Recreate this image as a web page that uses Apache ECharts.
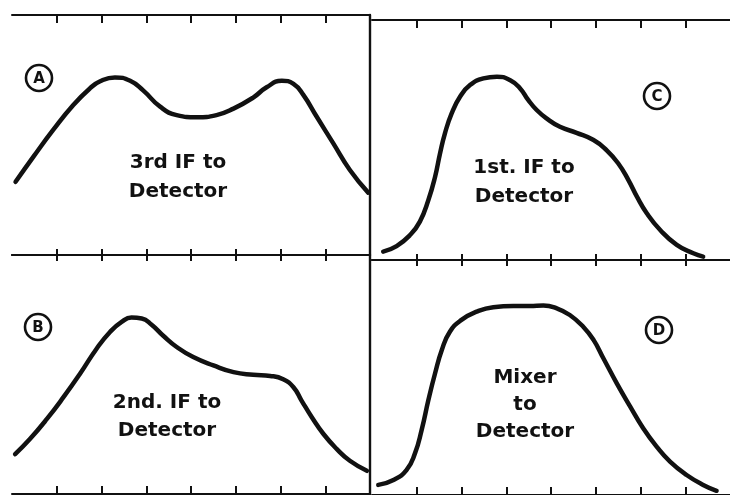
<!DOCTYPE html>
<html>
<head>
<meta charset="utf-8">
<script src="https://cdn.jsdelivr.net/npm/echarts@6/dist/echarts.min.js"></script>
<style>html,body{margin:0;padding:0;background:#fff}#c{width:730px;height:495px}</style>
</head>
<body>
<div id="c"></div>
<script>
// Response curves, x in scale divisions (0..8), y in relative response (0..100)
var curveA = [[0.08,30.5],[0.48,41.0],[0.92,52.1],[1.37,62.5],[1.74,69.4],[1.97,72.4],[2.30,74.0],[2.64,72.6],[2.93,68.6],[3.31,61.8],[3.68,58.3],[4.13,57.4],[4.57,58.3],[4.95,61.0],[5.39,65.6],[5.69,69.9],[6.03,72.6],[6.29,71.3],[6.51,66.7],[6.81,57.6],[7.18,46.5],[7.55,35.4],[7.96,26.0]];
var curveB = [[0.07,16.7],[0.40,23.0],[0.78,31.4],[1.15,40.5],[1.52,50.3],[1.89,60.8],[2.19,67.8],[2.45,72.0],[2.67,73.8],[2.90,73.4],[3.12,70.8],[3.38,66.2],[3.68,61.5],[4.05,57.3],[4.50,53.8],[4.95,51.0],[5.39,49.9],[5.77,49.4],[6.06,48.0],[6.29,44.7],[6.47,39.1],[6.70,32.1],[6.96,25.1],[7.26,18.8],[7.55,13.9],[7.93,9.7]];
var curveC = [[0.25,3.5],[0.55,5.8],[0.85,10.4],[1.07,16.0],[1.26,25.0],[1.41,34.7],[1.52,44.4],[1.63,52.8],[1.78,61.1],[1.97,68.1],[2.19,72.9],[2.49,75.7],[2.79,76.4],[3.08,75.0],[3.31,71.5],[3.49,66.7],[3.68,62.5],[3.90,59.0],[4.20,55.5],[4.57,53.0],[4.95,50.0],[5.24,45.8],[5.50,40.3],[5.73,33.3],[5.92,26.4],[6.14,19.5],[6.44,12.5],[6.81,6.3],[7.18,2.8],[7.40,1.4]];
var curveD = [[0.14,4.3],[0.48,6.4],[0.77,10.6],[0.96,17.7],[1.11,27.7],[1.26,40.4],[1.41,51.8],[1.56,61.7],[1.74,69.5],[2.00,74.5],[2.34,78.0],[2.71,79.9],[3.16,80.4],[3.53,80.4],[3.83,80.6],[4.13,79.4],[4.42,76.6],[4.72,71.6],[4.95,66.0],[5.17,58.2],[5.47,47.5],[5.77,37.6],[6.06,28.4],[6.36,20.6],[6.66,14.2],[7.03,8.5],[7.40,4.3],[7.70,1.8]];
var tickValues = [1,2,3,4,5,6,7];
var panelLetters = ['A','C','B','D'];
var labelA = ['3rd IF to','Detector'];
var labelB = ['2nd. IF to','Detector'];
var labelC = ['1st. IF to','Detector'];
var labelD = ['Mixer','to','Detector'];

var INK = '#111';
var chart = echarts.init(document.getElementById('c'), null, {renderer:'canvas'});

var grids = [
  {left:12, width:358, top:15, height:240},   // A top-left
  {left:372, width:358, top:20, height:240},  // C top-right
  {left:12, width:358, top:255, height:239},  // B bottom-left
  {left:372, width:358, top:260, height:235}  // D bottom-right
];

function xAx(gi, pos, inside, len){
  return {
    type:'value', gridIndex:gi, position:pos, min:0, max:8,
    axisLine:{show:true, onZero:false, lineStyle:{color:INK, width:2}},
    axisTick:{show:true, inside:inside, length:len, customValues:tickValues, lineStyle:{color:INK, width:2}},
    axisLabel:{show:false}, splitLine:{show:false}
  };
}
var xAxes = [
  xAx(0,'bottom',false,6), xAx(0,'top',true,8),
  xAx(1,'bottom',false,6), xAx(1,'top',true,8),
  xAx(2,'bottom',true,8),  xAx(2,'top',false,6),
  xAx(3,'bottom',true,8),  xAx(3,'top',false,6)
];
function yAx(gi, showLine){
  return {
    type:'value', gridIndex:gi, min:0, max:100, position:'right',
    axisLine:{show:showLine, onZero:false, lineStyle:{color:INK, width:2.4}},
    axisTick:{show:false}, axisLabel:{show:false}, splitLine:{show:false}
  };
}
var yAxes = [yAx(0,true), yAx(1,false), yAx(2,true), yAx(3,false)];

function ser(data, gi){
  return {
    type:'line', data:data, xAxisIndex:gi*2, yAxisIndex:gi,
    smooth:0.5, symbol:'none', silent:true,
    lineStyle:{color:INK, width:4.5, cap:'round', join:'round'}
  };
}

var FONT = '"DejaVu Sans", "Liberation Sans", sans-serif';
function textBlock(lines, cx, cy, gap){
  return lines.map(function(t, i){
    return {type:'text', x:cx, y:cy + i*gap, silent:true,
      style:{text:t, fill:INK, font:'bold 20px ' + FONT, textAlign:'center', textVerticalAlign:'middle'}};
  });
}
function circled(letter, cx, cy){
  return [
    {type:'circle', shape:{cx:cx, cy:cy, r:13}, silent:true, style:{fill:'none', stroke:INK, lineWidth:2.6}},
    {type:'text', x:cx, y:cy+1, silent:true, style:{text:letter, fill:INK, font:'bold 15px ' + FONT, textAlign:'center', textVerticalAlign:'middle'}}
  ];
}

var graphics = []
  .concat(textBlock(labelA, 178, 163, 29))
  .concat(textBlock(labelC, 524, 168, 29))
  .concat(textBlock(labelB, 167, 403, 28))
  .concat(textBlock(labelD, 525, 378, 27))
  .concat(circled(panelLetters[0], 39, 78))
  .concat(circled(panelLetters[1], 657, 96))
  .concat(circled(panelLetters[2], 38, 327))
  .concat(circled(panelLetters[3], 659, 330));

chart.setOption({
  backgroundColor:'#fff',
  animation:false,
  grid:grids,
  xAxis:xAxes,
  yAxis:yAxes,
  series:[ser(curveA,0), ser(curveC,1), ser(curveB,2), ser(curveD,3)],
  graphic:graphics
});
</script>
</body>
</html>
